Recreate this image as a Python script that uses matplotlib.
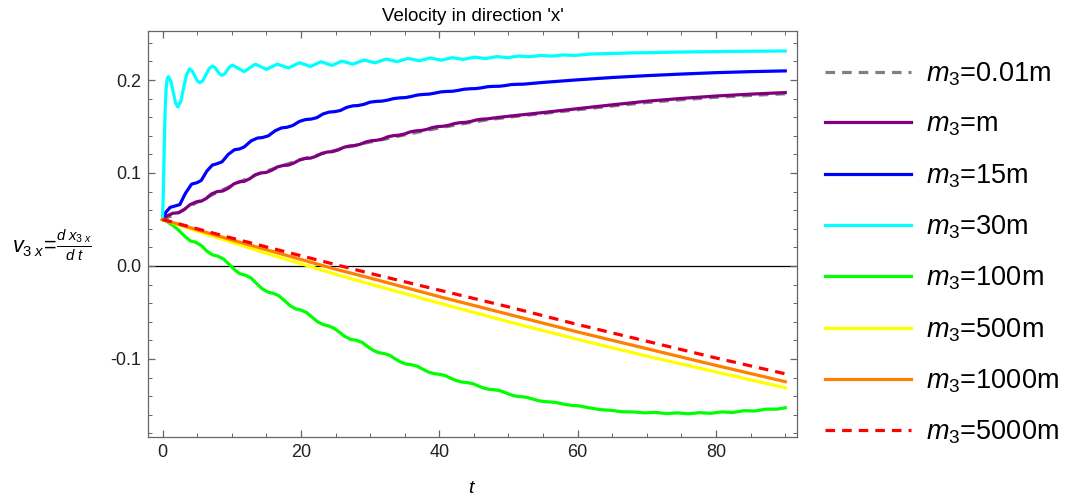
import matplotlib
matplotlib.use('Agg')
from matplotlib import pyplot as plt
from matplotlib.ticker import MultipleLocator, FormatStrFormatter

plt.rcParams['font.family'] = ['Liberation Sans', 'DejaVu Sans']
plt.rcParams['mathtext.fontset'] = 'custom'
plt.rcParams['mathtext.rm'] = 'Liberation Sans'
plt.rcParams['mathtext.it'] = 'Liberation Sans:italic'
plt.rcParams['mathtext.bf'] = 'Liberation Sans:bold'
plt.rcParams['axes.unicode_minus'] = False

# m3 = 30m (cyan)
cyan_t = [0, 0.1, 0.2, 0.3, 0.4, 0.5, 0.6, 0.72, 0.87, 1.20,
          1.54, 1.87, 2.2, 2.63, 3.05, 3.48, 3.9, 4.28, 4.65, 5.03,
          5.4, 5.85, 6.3, 6.75, 7.2, 7.55, 7.9, 8.25, 8.6, 8.98,
          9.35, 9.73, 10.1, 10.95, 11.8, 12.6, 13.4, 14.2, 15.0, 15.8,
          16.6, 17.4, 18.2, 19.0, 19.8, 20.6, 21.4, 22.15, 22.9, 23.7,
          24.5, 25.2, 25.9, 26.7, 27.5, 28.3, 29.1, 29.9, 30.7, 31.5,
          32.3, 33.1, 33.9, 34.7, 35.5, 36.3, 37.1, 37.9, 38.7, 39.5,
          40.3, 41.1, 41.9, 42.7, 43.5, 44.3, 45.1, 45.9, 46.7, 47.5,
          48.3, 49.9, 51.5, 53.1, 54.7, 56.3, 57.9, 59.5, 62, 65,
          68, 71, 74, 77, 80, 83, 86, 90]
cyan_v = [0.05, 0.075, 0.11, 0.145, 0.172, 0.188, 0.197, 0.2025, 0.2035, 0.1988,
          0.1873, 0.1757, 0.171, 0.177, 0.1915, 0.206, 0.212, 0.2098, 0.2045, 0.1992,
          0.197, 0.1996, 0.206, 0.2124, 0.215, 0.2135, 0.210, 0.2065, 0.205, 0.2066,
          0.2105, 0.2144, 0.216, 0.2125, 0.209, 0.213, 0.217, 0.2143, 0.2115, 0.2143,
          0.217, 0.215, 0.213, 0.2158, 0.2186, 0.2166, 0.2145, 0.2171, 0.2197, 0.2177,
          0.2157, 0.218, 0.2204, 0.2187, 0.217, 0.2192, 0.2215, 0.220, 0.2185, 0.2205,
          0.2225, 0.2212, 0.2198, 0.2215, 0.2232, 0.222, 0.2207, 0.2222, 0.2237, 0.2225,
          0.2213, 0.2227, 0.224, 0.2231, 0.2222, 0.2234, 0.2246, 0.2238, 0.2230, 0.2241,
          0.2252, 0.2240, 0.2258, 0.2250, 0.2264, 0.2257, 0.2270, 0.2264, 0.228, 0.2285,
          0.2292, 0.2295, 0.2300, 0.2303, 0.2305, 0.2308, 0.231, 0.2312]

# m3 = 15m (blue)
blue_t = [0, 0.5, 1.1, 1.8, 2.5, 3.3, 4.2, 5.0, 5.6, 6.4,
          7.2, 7.9, 8.6, 9.5, 10.4, 11.1, 11.8, 12.8, 13.7, 14.5,
          15.3, 16.3, 17.2, 18.0, 18.8, 19.8, 20.7, 21.5, 22.3, 23.2,
          24.1, 24.9, 25.7, 26.6, 27.5, 28.3, 29.1, 30.0, 30.9, 31.7,
          32.5, 33.4, 34.3, 35.1, 35.9, 36.8, 37.7, 38.5, 39.3, 40.2,
          41.1, 41.9, 42.7, 43.6, 44.5, 45.3, 46.1, 47.0, 47.9, 48.7,
          49.5, 50.4, 51.3, 52.1, 55, 60, 65, 70, 75, 80,
          85, 90]
blue_v = [0.05, 0.058, 0.063, 0.0645, 0.066, 0.078, 0.088, 0.0896, 0.092, 0.102,
          0.1085, 0.110, 0.112, 0.120, 0.1250, 0.1258, 0.128, 0.1345, 0.1375, 0.1382,
          0.140, 0.1455, 0.1485, 0.1492, 0.151, 0.1555, 0.1575, 0.1580, 0.1595, 0.1635,
          0.1655, 0.1660, 0.1672, 0.1705, 0.1722, 0.1726, 0.1738, 0.1762, 0.1770, 0.1773,
          0.1783, 0.1800, 0.1808, 0.1811, 0.1822, 0.1838, 0.1845, 0.1848, 0.1858, 0.1872,
          0.1877, 0.1879, 0.1888, 0.1901, 0.1906, 0.1908, 0.1916, 0.1928, 0.1932, 0.1933,
          0.1940, 0.1951, 0.1954, 0.1955, 0.1974, 0.2002, 0.2027, 0.2047, 0.2064, 0.2079,
          0.2090, 0.2098]

# m3 = m (purple)
purple_t = [0, 0.7, 1.5, 2.3, 3.1, 4.0, 4.9, 5.6, 6.3, 7.1,
            7.9, 8.7, 9.5, 10.3, 11.1, 11.8, 12.6, 13.4, 14.2, 15.0,
            15.8, 16.6, 17.4, 18.2, 19.0, 19.8, 20.6, 21.4, 22.2, 23.0,
            23.8, 24.6, 25.4, 26.2, 27.0, 27.8, 28.6, 29.4, 30.2, 31.0,
            31.8, 32.6, 33.4, 34.2, 35.0, 35.8, 36.6, 37.4, 38.2, 39.0,
            39.8, 40.6, 41.4, 42.2, 43.0, 43.8, 44.6, 45.4, 46.2, 47.0,
            47.8, 50, 55, 60, 65, 70, 75, 80, 85, 90]
purple_v = [0.05, 0.054, 0.0567, 0.0572, 0.0605, 0.066, 0.0690, 0.0697, 0.0725, 0.0775,
            0.0800, 0.0806, 0.0835, 0.0882, 0.0905, 0.0910, 0.0938, 0.0980, 0.1000, 0.1006,
            0.1030, 0.1065, 0.1080, 0.1085, 0.1108, 0.1140, 0.1156, 0.1160, 0.1180, 0.1210,
            0.1225, 0.1230, 0.1248, 0.1276, 0.1290, 0.1295, 0.1310, 0.1334, 0.1347, 0.1352,
            0.1366, 0.1390, 0.1402, 0.1407, 0.1420, 0.1442, 0.1453, 0.1457, 0.1469, 0.1489,
            0.1499, 0.1503, 0.1514, 0.1532, 0.1541, 0.1545, 0.1555, 0.1571, 0.1579, 0.1582,
            0.1591, 0.1610, 0.1650, 0.1692, 0.1733, 0.1772, 0.1802, 0.1828, 0.1848, 0.1865]

# m3 = 0.01m (gray dashed)
gray_t = [0, 2, 5, 8, 11, 14, 17, 20, 23, 26, 29, 32, 35,
          38, 41, 44, 47, 50, 55, 60, 65, 70, 75, 80, 85, 90]
gray_v = [0.05, 0.056, 0.0685, 0.0795, 0.0900, 0.0995, 0.1070, 0.1145, 0.1205, 0.1265, 0.1318, 0.1362, 0.1410,
          0.1455, 0.1498, 0.1537, 0.1572, 0.1600, 0.1640, 0.1680, 0.1720, 0.1758, 0.1788, 0.1814, 0.1834, 0.1852]

# m3 = 100m (green)
green_t = [0, 0.8, 1.6, 2.4, 3.2, 4.0, 4.8, 5.6, 6.4, 7.2,
           8.0, 8.8, 9.6, 10.4, 11.2, 12.0, 12.8, 13.6, 14.4, 15.2,
           16.0, 16.8, 17.6, 18.4, 19.2, 20.0, 20.8, 21.6, 22.4, 23.2,
           24.0, 24.8, 25.6, 26.4, 27.2, 28.0, 28.8, 29.6, 30.4, 31.2,
           32.0, 32.8, 33.6, 34.4, 35.2, 36.0, 36.8, 37.6, 38.4, 39.2,
           40.0, 40.8, 41.6, 42.4, 43.2, 44.0, 44.8, 45.6, 46.4, 47.2,
           48.0, 48.8, 49.6, 50.4, 51.2, 52.0, 52.8, 53.6, 54.4, 55.2,
           56.0, 56.8, 57.6, 58.4, 59.2, 60.0, 61.6, 63.2, 64.8, 66.4,
           68.0, 69.6, 71.2, 72.8, 74.4, 76.0, 77.6, 79.2, 80.8, 82.4,
           84.0, 85.6, 87.2, 88.8, 90.0]
green_v = [0.05, 0.047, 0.043, 0.038, 0.032, 0.027, 0.0255, 0.022, 0.016, 0.012,
           0.0105, 0.0075, 0.002, -0.004, -0.0085, -0.010, -0.013, -0.019, -0.0245, -0.028,
           -0.0295, -0.032, -0.037, -0.0425, -0.046, -0.0475, -0.050, -0.055, -0.060, -0.063,
           -0.0645, -0.067, -0.0715, -0.076, -0.079, -0.080, -0.082, -0.0865, -0.0905, -0.0932,
           -0.0942, -0.096, -0.0998, -0.1033, -0.1055, -0.1063, -0.1078, -0.111, -0.114, -0.1158,
           -0.1165, -0.1178, -0.1205, -0.1232, -0.1248, -0.1254, -0.1265, -0.1290, -0.1313, -0.1327,
           -0.1332, -0.1342, -0.1365, -0.1388, -0.1402, -0.1407, -0.1416, -0.1434, -0.1450, -0.1459,
           -0.1462, -0.1468, -0.1480, -0.1492, -0.1500, -0.1503, -0.1525, -0.1545, -0.1553, -0.1568,
           -0.1570, -0.1580, -0.1575, -0.1588, -0.1580, -0.1590, -0.1578, -0.1585, -0.1570, -0.1576,
           -0.1557, -0.1560, -0.1540, -0.1540, -0.1525]

# m3 = 500m, 1000m, 5000m (almost straight)
line_t = [0, 5, 10, 15, 20, 25, 30, 40, 50, 60, 70, 80, 90]
yellow_v = [0.05, 0.0375, 0.0255, 0.0135, 0.0025, -0.009, -0.0195, -0.040, -0.060, -0.079, -0.097, -0.114, -0.131]
orange_v = [0.05, 0.039, 0.028, 0.0175, 0.007, -0.0035, -0.013, -0.033, -0.052, -0.071, -0.089, -0.107, -0.1245]
red_v = [0.05, 0.040, 0.030, 0.0205, 0.011, 0.0015, -0.008, -0.026, -0.044, -0.063, -0.081, -0.099, -0.116]

labels = ['0.01m', 'm', '15m', '30m', '100m', '500m', '1000m', '5000m']


def graphing():
    fig = plt.figure(figsize=(10.81, 5.01), dpi=100)
    ax = fig.add_axes([0.1369, 0.1277, 0.6004, 0.8104])

    lw = 2.3
    dash = dict(linestyle=(0, (3.0, 2.2)), dash_capstyle='butt')
    ax.axhline(0, color='black', lw=0.9, zorder=1)
    ax.plot(gray_t, gray_v, color='#808080', lw=lw, **dash)
    ax.plot(purple_t, purple_v, color='#800080', lw=lw)
    ax.plot(blue_t, blue_v, color='#0000ff', lw=lw)
    ax.plot(cyan_t, cyan_v, color='#00ffff', lw=lw)
    ax.plot(green_t, green_v, color='#00ff00', lw=lw)
    ax.plot(line_t, yellow_v, color='#ffff00', lw=lw)
    ax.plot(line_t, orange_v, color='#ff8000', lw=lw)
    ax.plot(line_t, red_v, color='#ff0000', lw=lw, **dash)

    ax.set_xlim(-2.1, 91.7)
    ax.set_ylim(-0.184, 0.2527)
    ax.xaxis.set_major_locator(MultipleLocator(20))
    ax.xaxis.set_minor_locator(MultipleLocator(5))
    ax.yaxis.set_major_locator(MultipleLocator(0.1))
    ax.yaxis.set_minor_locator(MultipleLocator(0.02))
    ax.yaxis.set_major_formatter(FormatStrFormatter('%.1f'))
    ax.tick_params(which='both', direction='in', top=True, right=True,
                   color='#666666', labelcolor='#222222', labelsize=13)
    ax.tick_params(which='major', length=5, width=0.9, pad=5)
    ax.tick_params(which='minor', length=3, width=0.7)
    for s in ax.spines.values():
        s.set_color('#666666')
        s.set_linewidth(0.9)

    ax.set_title("Velocity in direction 'x'", fontsize=13.5, pad=7)
    ax.set_xlabel('$t$', fontsize=14, labelpad=14)
    ax.set_ylabel(r'$v_{3\;x}\!=\!\frac{d\;x_{3\;x}}{d\;t}$', fontsize=15.5,
                  rotation=0, ha='center', va='center')
    ax.yaxis.set_label_coords(-0.148, 0.473)

    handles = ax.get_lines()[1:]
    fig.legend(handles, ['$m_3$=' + s for s in labels],
               loc='upper left', bbox_to_anchor=(0.763, 0.879),
               frameon=False, fontsize=19.5, handlelength=3.2,
               handletextpad=0.55, labelspacing=0.88,
               borderpad=0, borderaxespad=0)

    fig.savefig('out.png', dpi=100)


if __name__ == "__main__":
    graphing()
